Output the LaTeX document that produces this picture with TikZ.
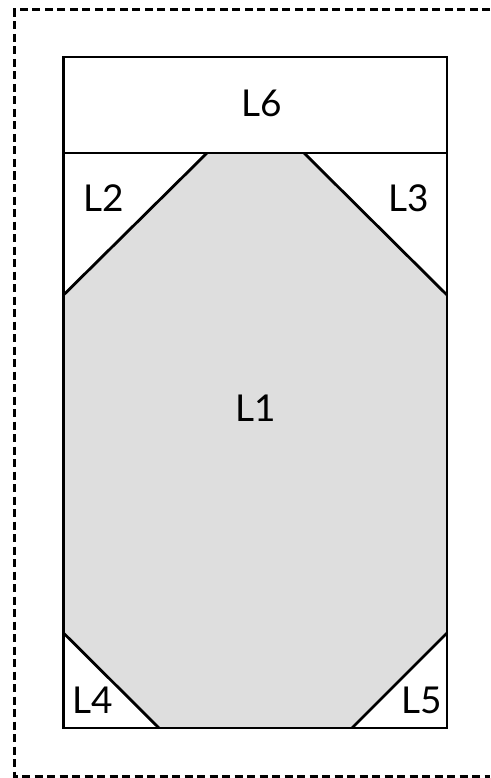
\documentclass[tikz,border=0pt]{standalone}
\usepackage{fontspec}
\setsansfont{Lato}
\usepackage{tikz}
\usepackage{xcolor}
\definecolor{layGray}{RGB}{222,222,222}

\begin{document}
\begin{tikzpicture}[x=1pt,y=-1pt,
    edge/.style={line width=2.8pt,line join=miter},
    lab/.style={font=\sffamily\fontsize{37}{37}\selectfont}]
  \useasboundingbox (0,0) rectangle (490,778);
  % cut line, runs off the right side
  \draw[line width=2.8pt,dash pattern=on 8pt off 4.5pt]
    (490,9.5) -- (14.5,9.5) -- (14.5,776.5) -- (490,776.5);
  % centre piece
  \fill[layGray] (207,153) -- (304,153) -- (447,295) -- (447,633)
    -- (352,728) -- (159,728) -- (63.5,633) -- (63.5,295) -- cycle;
  \draw[edge] (63.5,57) rectangle (447,728);
  \draw[edge] (63.5,153) -- (447,153);
  \draw[edge] (63.5,295) -- (207,153) (304,153) -- (447,295);
  \draw[edge] (63.5,633) -- (159,728) (447,633) -- (352,728);
  \node[lab] (l6) at (262,103) {L6};
  \node[lab] (l2) at (104,198) {L2};
  \node[lab] (l3) at (409,198) {L3};
  \node[lab] (l1) at (256,408) {L1};
  \node[lab] (l4) at (93,700) {L4};
  \node[lab] (l5) at (422,700) {L5};
\end{tikzpicture}
\end{document}
